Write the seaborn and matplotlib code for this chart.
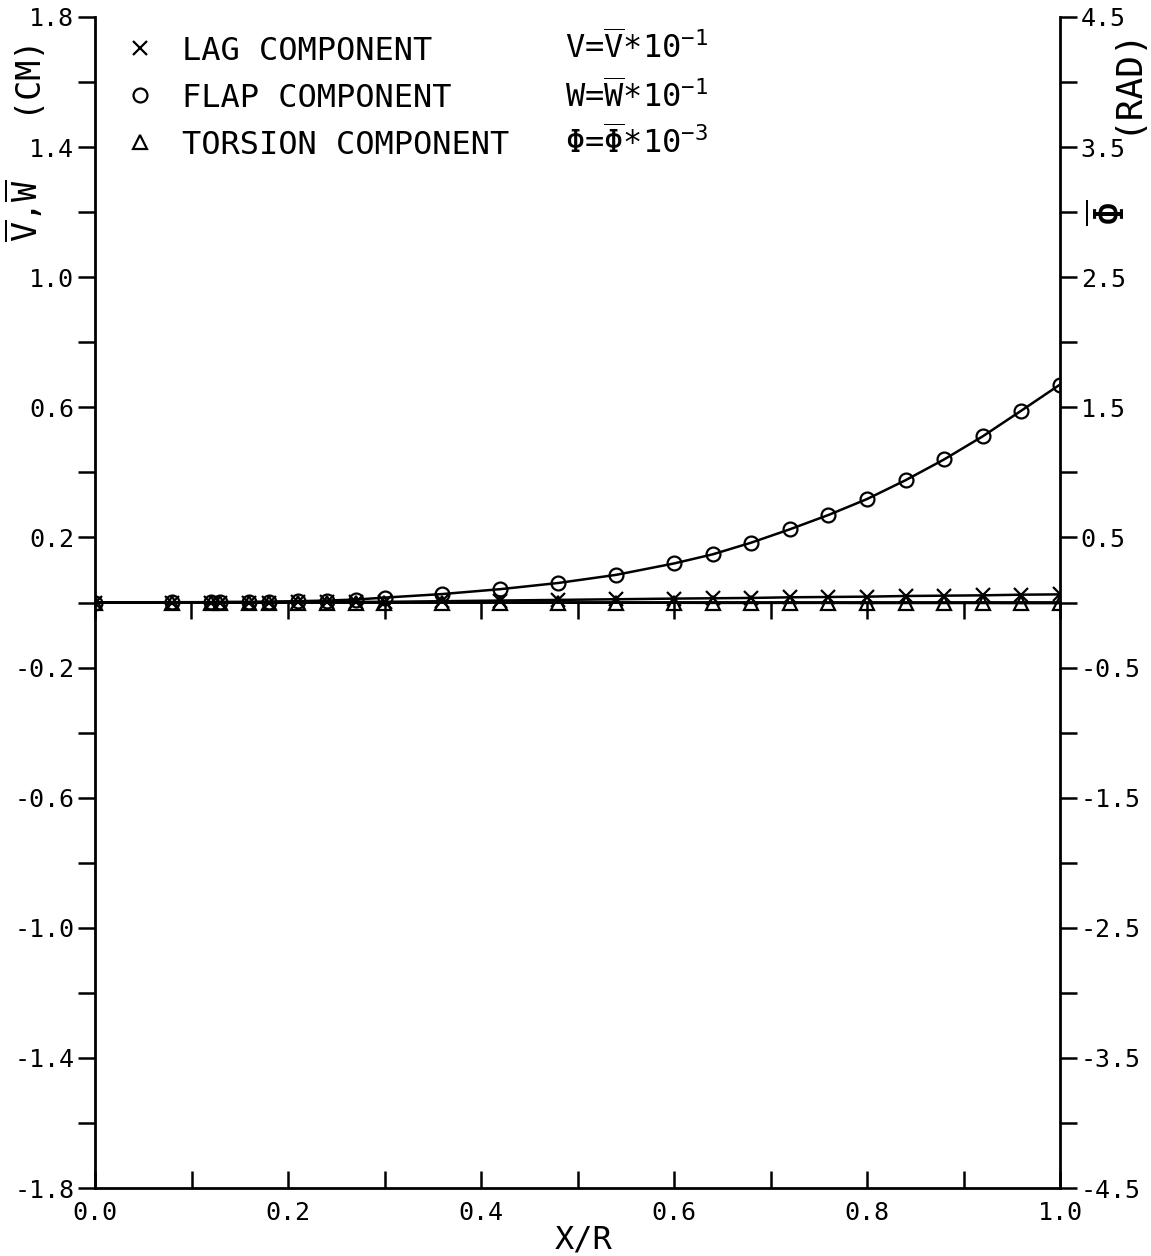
import numpy as np
import pandas as pd
import matplotlib
matplotlib.use("Agg")
import matplotlib.pyplot as plt
from matplotlib.lines import Line2D
from matplotlib.ticker import MultipleLocator, FixedLocator, NullFormatter
import seaborn as sns

# Spanwise stations (x/R) and deflection components
x_r = [0.00, 0.08, 0.12, 0.13, 0.16, 0.18, 0.21, 0.24, 0.27, 0.30, 0.36, 0.42, 0.48,
       0.54, 0.60, 0.64, 0.68, 0.72, 0.76, 0.80, 0.84, 0.88, 0.92, 0.96, 1.00]
flap_w = [0.000, 0.001, 0.001, 0.002, 0.002, 0.003, 0.004, 0.006, 0.009, 0.015, 0.026,
          0.041, 0.060, 0.085, 0.120, 0.148, 0.184, 0.225, 0.269, 0.318, 0.376, 0.440,
          0.511, 0.590, 0.670]
lag_v = [0.000, 0.000, 0.000, 0.000, 0.000, 0.000, 0.001, 0.001, 0.002, 0.002, 0.004,
         0.006, 0.008, 0.010, 0.012, 0.013, 0.014, 0.016, 0.017, 0.018, 0.020, 0.021,
         0.022, 0.024, 0.025]
torsion_phi = [0.000, 0.000, 0.000, 0.000, 0.000, 0.000, 0.000, 0.000, 0.000, 0.000,
               -0.001, -0.001, -0.002, -0.002, -0.002, -0.003, -0.003, -0.003, -0.003,
               -0.004, -0.004, -0.004, -0.004, -0.005, -0.005]

legend_labels = ["LAG COMPONENT", "FLAP COMPONENT", "TORSION COMPONENT"]
scale_notes = [r"V=$\overline{V}$*10$^{-1}$",
               r"W=$\overline{W}$*10$^{-1}$",
               r"$\Phi$=$\overline{\Phi}$*10$^{-3}$"]
x_ticks = [0.0, 0.2, 0.4, 0.6, 0.8, 1.0]
x_ticklabels = ["0.0", "0.2", "0.4", "0.6", "0.8", "1.0"]
left_ticks = [1.8, 1.4, 1.0, 0.6, 0.2, -0.2, -0.6, -1.0, -1.4, -1.8]
right_ticks = [4.5, 3.5, 2.5, 1.5, 0.5, -0.5, -1.5, -2.5, -3.5, -4.5]

sns.set_theme(style="ticks")
plt.rcParams["font.family"] = ["DejaVu Sans Mono", "DejaVu Sans"]
plt.rcParams["mathtext.fontset"] = "custom"
plt.rcParams["mathtext.rm"] = "DejaVu Sans Mono"
plt.rcParams["mathtext.it"] = "DejaVu Sans Mono"
plt.rcParams["mathtext.bf"] = "DejaVu Sans Mono:bold"
for key in ("text.color", "axes.labelcolor", "xtick.color", "ytick.color",
            "xtick.labelcolor", "ytick.labelcolor", "axes.edgecolor"):
    plt.rcParams[key] = "black"

df = pd.DataFrame({"x": x_r, "flap": flap_w, "lag": lag_v, "torsion": torsion_phi})

fig = plt.figure(figsize=(11.51, 12.56), dpi=100)
ax = fig.add_axes([95 / 1151, 1 - 1188 / 1256, 965 / 1151, 1171 / 1256])
ax.set_facecolor("white")
fig.patch.set_facecolor("white")

lw = 1.8
ms = 10
mew = 1.6
sns.lineplot(data=df, x="x", y="flap", ax=ax, color="black", lw=lw, marker="o",
             markersize=ms, markerfacecolor="none", markeredgecolor="black",
             markeredgewidth=mew, sort=False)
sns.lineplot(data=df, x="x", y="lag", ax=ax, color="black", lw=lw, marker="x",
             markersize=ms, markeredgecolor="black", markeredgewidth=mew, sort=False)

ax.set_xlim(0, 1.0)
ax.set_ylim(-1.8, 1.8)

ax2 = ax.twinx()
sns.lineplot(data=df, x="x", y="torsion", ax=ax2, color="black", lw=lw, marker="^",
             markersize=ms, markerfacecolor="none", markeredgecolor="black",
             markeredgewidth=mew, sort=False)
ax2.set_ylim(-4.5, 4.5)
ax2.set_xlim(0, 1.0)
ax.set_ylabel("")
ax2.set_ylabel("")

# spines: no top border
for a in (ax, ax2):
    a.spines["top"].set_visible(False)
    for s in ("left", "right", "bottom"):
        a.spines[s].set_linewidth(2.0)
        a.spines[s].set_color("black")
ax.spines["right"].set_visible(False)
ax2.spines["left"].set_visible(False)
ax2.spines["bottom"].set_visible(False)

tick_kw = dict(length=12, width=1.8, color="black", labelsize=18, labelcolor="black")

# bottom axis: ticks pointing into the plot every 0.1
ax.xaxis.set_major_locator(FixedLocator(x_ticks))
ax.xaxis.set_minor_locator(MultipleLocator(0.1))
ax.set_xticklabels(x_ticklabels)
ax.tick_params(axis="x", which="both", direction="in", pad=9, **tick_kw)

# left axis
ax.yaxis.set_major_locator(FixedLocator(left_ticks))
ax.yaxis.set_minor_locator(MultipleLocator(0.2))
ax.set_yticklabels([f"{v:.1f}" for v in left_ticks])
ax.tick_params(axis="y", which="both", direction="out", pad=3, **tick_kw)

# right axis
ax2.yaxis.set_major_locator(FixedLocator(right_ticks))
ax2.yaxis.set_minor_locator(MultipleLocator(0.5))
ax2.set_yticklabels([f"{v:.1f}" for v in right_ticks])
ax2.tick_params(axis="y", which="both", direction="out", pad=3, **tick_kw)

# zero reference line with ticks hanging below it
zero_ax = ax.secondary_xaxis(0.5)
zero_ax.spines["bottom"].set_linewidth(2.0)
zero_ax.spines["top"].set_linewidth(2.0)
zero_ax.xaxis.set_major_locator(MultipleLocator(0.1))
zero_ax.xaxis.set_major_formatter(NullFormatter())
zero_ax.tick_params(axis="x", direction="in", length=12, width=1.8, labelsize=1,
                    color="black")

# axis labels
ax.set_xlabel("X/R", fontsize=23, color="black")
ax.xaxis.set_label_coords(0.506, -0.031)

ax.text(-0.0735, 0.9526, "(CM)", transform=ax.transAxes, rotation=90,
        fontsize=24, ha="center", va="center", color="black")
ax.text(-0.0735, 0.8343, r"$\overline{V}$,$\overline{W}$", transform=ax.transAxes,
        rotation=90, fontsize=24, ha="center", va="center", color="black")
ax.text(1.068, 0.9462, "(RAD)", transform=ax.transAxes, rotation=90,
        fontsize=26, ha="center", va="center", color="black")
ax.text(1.0549, 0.8326, r"$\overline{\Phi}$", transform=ax.transAxes, rotation=90,
        fontsize=29, ha="center", va="center", color="black")

# legend
handles = [
    Line2D([], [], color="black", marker="x", linestyle="none", markersize=ms,
           markeredgewidth=mew),
    Line2D([], [], color="black", marker="o", linestyle="none", markersize=ms,
           markerfacecolor="none", markeredgewidth=mew),
    Line2D([], [], color="black", marker="^", linestyle="none", markersize=ms,
           markerfacecolor="none", markeredgewidth=mew),
]
ax.legend(handles, legend_labels, loc="upper left", bbox_to_anchor=(0.017, 0.995),
          frameon=False, fontsize=23, handlelength=1.0, handletextpad=0.8,
          labelspacing=0.5, borderaxespad=0.0, labelcolor="black")

row_y = [0.9735, 0.9317, 0.8924]
for yy, note in zip(row_y, scale_notes):
    ax.text(0.487, yy, note, transform=ax.transAxes, fontsize=23,
            ha="left", va="center", color="black")

fig.savefig("out.png", dpi=100, facecolor="white")
